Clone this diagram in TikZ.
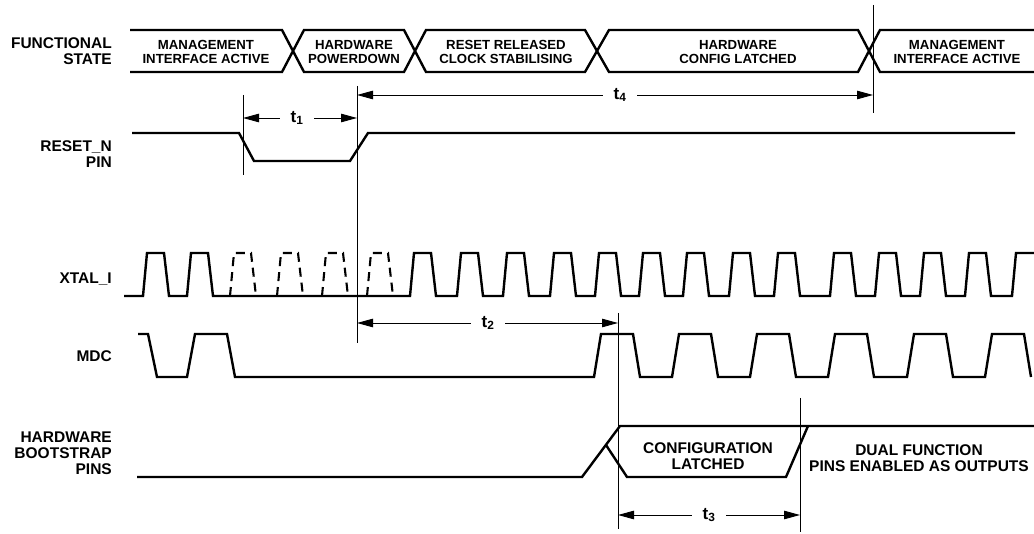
\documentclass[tikz,border=0pt]{standalone}
\usepackage{fontspec}
\setmainfont{Liberation Sans}
\newfontfamily\lblfont{Liberation Sans}
\usetikzlibrary{arrows.meta}
\begin{document}
\begin{tikzpicture}[x=1pt,y=-1pt,
  sig/.style={line width=2.4pt, line join=miter},
  dashsig/.style={line width=2.1pt, dash pattern=on 9pt off 6pt},
  guide/.style={line width=0.9pt},
  dimarr/.style={line width=0.9pt, -{Triangle[length=16pt,width=8.5pt]}},
  lbl/.style={font=\lblfont\bfseries\fontsize{15.5}{16}\selectfont, inner sep=0pt, align=right},
  bustxt/.style={font=\bfseries\fontsize{13.2}{13.3}\selectfont, inner sep=0pt, align=center},
  midtxt/.style={font=\lblfont\bfseries\fontsize{15.5}{16}\selectfont, inner sep=0pt, align=center},
  tlbl/.style={font=\lblfont\bfseries\fontsize{17}{17}\selectfont, inner sep=0pt, minimum width=34pt},
]
\useasboundingbox (0,0) rectangle (1034,534);
\fill[white] (0,0) rectangle (1034,534);

% ---- signal labels
\node[lbl, anchor=east] (fs) at (112,51) {FUNCTIONAL\\STATE};
\node[lbl, anchor=east] (rn) at (112,154) {RESET\_N\\PIN};
\node[lbl, anchor=base east] (xt) at (112,284) {XTAL\_I};
\node[lbl, anchor=base east] (md) at (112,362) {MDC};
\node[lbl, anchor=east] (hb) at (112,453) {HARDWARE\\BOOTSTRAP\\PINS};

% ---- functional state bus
\draw[sig] (130,30) -- (282,30) -- (304,72) -- (404,72) -- (426,30) -- (585,30) -- (609,72) -- (858,72) -- (880,30) -- (1036,30);
\draw[sig] (130,72) -- (282,72) -- (304,30) -- (404,30) -- (426,72) -- (585,72) -- (609,30) -- (858,30) -- (880,72) -- (1036,72);
\node[bustxt] (s1) at (206,52) {MANAGEMENT\\INTERFACE ACTIVE};
\node[bustxt] (s2) at (354,52) {HARDWARE\\POWERDOWN};
\node[bustxt] (s3) at (506,52) {RESET RELEASED\\CLOCK STABILISING};
\node[bustxt] (s4) at (738,52) {HARDWARE\\CONFIG LATCHED};
\node[bustxt] (s5) at (957,52) {MANAGEMENT\\INTERFACE ACTIVE};

% ---- RESET_N
\draw[sig] (132,133) -- (239,133) -- (254,161) -- (350,161) -- (368,133) -- (1015,133);

% ---- XTAL_I
\draw[sig] (124,296)
  foreach \r in {143,187,410,457,503,550,595,639,683,729,774,830,875,920,965}
  { -- (\r,296) -- ({\r+4},253) -- ({\r+21},253) -- ({\r+26},296) }
  -- (1012,296) -- (1016,253) -- (1036,253);
\draw[dashsig] foreach \r in {230,277,322,367}
  { (\r,296) -- ({\r+4},253) -- ({\r+21},253) -- ({\r+26},296) };

% ---- MDC
\draw[sig] (138,334) -- (148,334) -- (157,377) -- (187,377) -- (195,334) -- (227,334) -- (235,377)
  foreach \r in {594,672,750,828,907,985}
  { -- (\r,377) -- ({\r+7},334) -- ({\r+39},334) -- ({\r+46},377) };

% ---- HARDWARE BOOTSTRAP PINS
\draw[sig] (137,477) -- (582,477) -- (620,426) -- (1036,426);
\draw[sig] (606,445) -- (627,477) -- (786,477) -- (808,426);
\node[midtxt] (cl) at (708,456) {CONFIGURATION\\LATCHED};
\node[midtxt] (df) at (919,458) {DUAL FUNCTION\\PINS ENABLED AS OUTPUTS};

% ---- guide lines
\coordinate (g1t) at (243,95);  \coordinate (g1b) at (243,175);
\coordinate (g2t) at (357,86);  \coordinate (g2b) at (357,343);
\coordinate (g4t) at (873,5);   \coordinate (g4b) at (873,113);
\coordinate (g3t) at (618,313); \coordinate (g3b) at (618,529);
\coordinate (g5t) at (800,398); \coordinate (g5b) at (800,532);
\foreach \g in {g1,g2,g3,g4,g5} { \draw[guide] (\g t) -- (\g b); }

% ---- timing arrows
\node[tlbl] (t1) at (297,118) {t\textsubscript{1}};
\coordinate (a1l) at (243,118); \coordinate (a1r) at (357,118);
\draw[dimarr] (t1.west) -- (a1l);
\draw[dimarr] (t1.east) -- (a1r);

\node[tlbl] (t4) at (620,95) {t\textsubscript{4}};
\coordinate (a4l) at (357,95); \coordinate (a4r) at (873,95);
\draw[dimarr] (t4.west) -- (a4l);
\draw[dimarr] (t4.east) -- (a4r);

\node[tlbl] (t2) at (488,323) {t\textsubscript{2}};
\coordinate (a2l) at (357,323); \coordinate (a2r) at (618,323);
\draw[dimarr] (t2.west) -- (a2l);
\draw[dimarr] (t2.east) -- (a2r);

\node[tlbl] (t3) at (709,515) {t\textsubscript{3}};
\coordinate (a3l) at (618,515); \coordinate (a3r) at (800,515);
\draw[dimarr] (t3.west) -- (a3l);
\draw[dimarr] (t3.east) -- (a3r);
\end{tikzpicture}
\end{document}
